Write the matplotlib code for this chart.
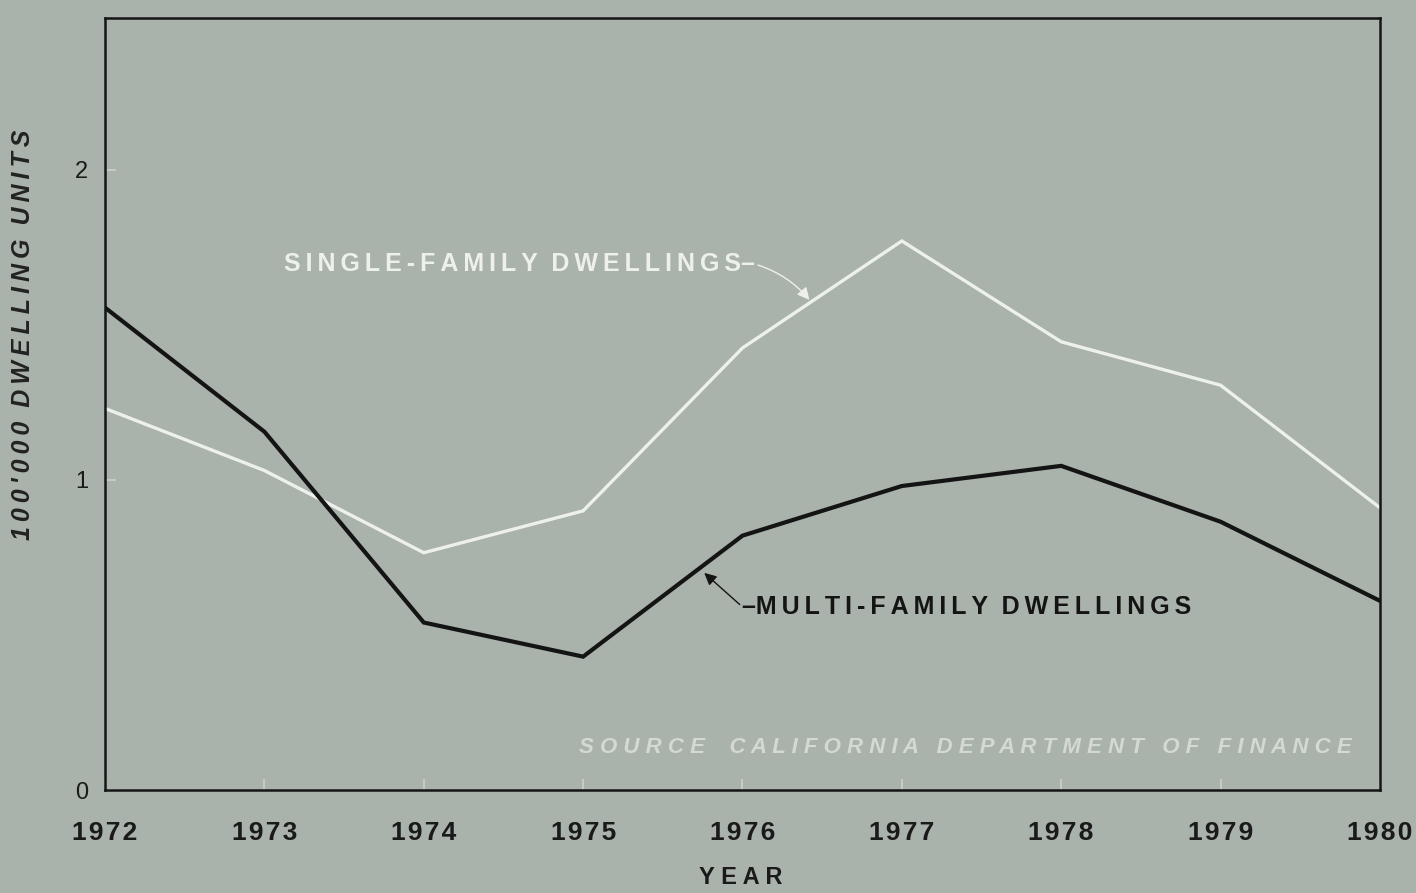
import numpy as np
import matplotlib.pyplot as plt

years = [1972, 1973, 1974, 1975, 1976, 1977, 1978, 1979, 1980]
single_family = [1.23, 1.03, 0.765, 0.90, 1.425, 1.77, 1.445, 1.305, 0.91]
multi_family = [1.555, 1.155, 0.54, 0.43, 0.82, 0.98, 1.045, 0.865, 0.61]
yticks = [0, 1, 2]

bg = '#a9b2ab'
fam = ['Liberation Sans', 'DejaVu Sans']
TS = '\u2009'  # thin space for letter spacing
HS = '\u200a'  # hair space

def spaced(s, sep=TS):
    return sep.join(s)

fig = plt.figure(figsize=(14.16, 8.93), dpi=100, facecolor=bg)
ax = fig.add_axes([0.0742, 0.1153, 0.9003, 0.865], facecolor=bg)

ax.plot(years, single_family, color='#eef0ec', lw=2.4, solid_joinstyle='miter')
ax.plot(years, multi_family, color='#141414', lw=3.0, solid_joinstyle='miter')

ax.set_xlim(1972, 1980)
ax.set_ylim(0, 2.49)
ax.set_xticks(years)
ax.set_yticks(yticks)
ax.set_xticklabels([spaced(str(y), HS) for y in years], fontfamily=fam, fontsize=19,
                   fontweight='bold', color='#1a1a1a')
ax.set_yticklabels([str(t) for t in yticks], fontfamily=fam, fontsize=17,
                   color='#1a1a1a')
ax.tick_params(axis='both', direction='in', length=8, width=1.2,
               color='#cdd2cb')
ax.tick_params(axis='x', pad=22)
ax.tick_params(axis='y', pad=12)
for s in ax.spines.values():
    s.set_color('#151515')
    s.set_linewidth(1.8)

fig.text(741 / 1416, 1 - 878 / 893, spaced('YEAR', ' '), ha='center', va='center',
         fontfamily=fam, fontsize=17, fontweight='bold', color='#1a1a1a')
fig.text(0.0165, 0.625, spaced("100'000") + '  ' + spaced('DWELLING') + '  ' + spaced('UNITS'),
         rotation=90, ha='center', va='center', fontfamily=fam,
         fontsize=18, style='italic', fontweight='bold', color='#222222')

# line labels with leader arrows
ax.annotate(spaced('SINGLE-FAMILY') + '  ' + spaced('DWELLINGS') + '\u2013',
            xy=(1976.42, 1.58), xytext=(1976.08, 1.695),
            ha='right', va='center', fontfamily=fam, fontsize=18,
            fontweight='bold', color='#eef0ec',
            arrowprops=dict(arrowstyle='-|>', color='#eef0ec', lw=1.0,
                            relpos=(1, 0.5),
                            connectionstyle='arc3,rad=-0.15', shrinkA=0, shrinkB=0))
ax.annotate('\u2013' + spaced('MULTI-FAMILY') + '  ' + spaced('DWELLINGS'),
            xy=(1975.76, 0.70), xytext=(1976.0, 0.59),
            ha='left', va='center', fontfamily=fam, fontsize=18,
            fontweight='bold', color='#141414',
            arrowprops=dict(arrowstyle='-|>', color='#141414', lw=1.0,
                            relpos=(0, 0.5),
                            connectionstyle='arc3,rad=0', shrinkA=0, shrinkB=0))

ax.text(0.978, 0.055, spaced('SOURCE', ' ') + '    ' + spaced('CALIFORNIA', ' ') + '   '
        + spaced('DEPARTMENT', ' ') + '   ' + spaced('OF', ' ') + '   ' + spaced('FINANCE', ' '),
        transform=ax.transAxes, ha='right', va='center', fontfamily=fam,
        fontsize=16, style='italic', fontweight='bold', color='#dfe3dc', alpha=0.8)

fig.savefig('out.png', dpi=100, facecolor=bg)
